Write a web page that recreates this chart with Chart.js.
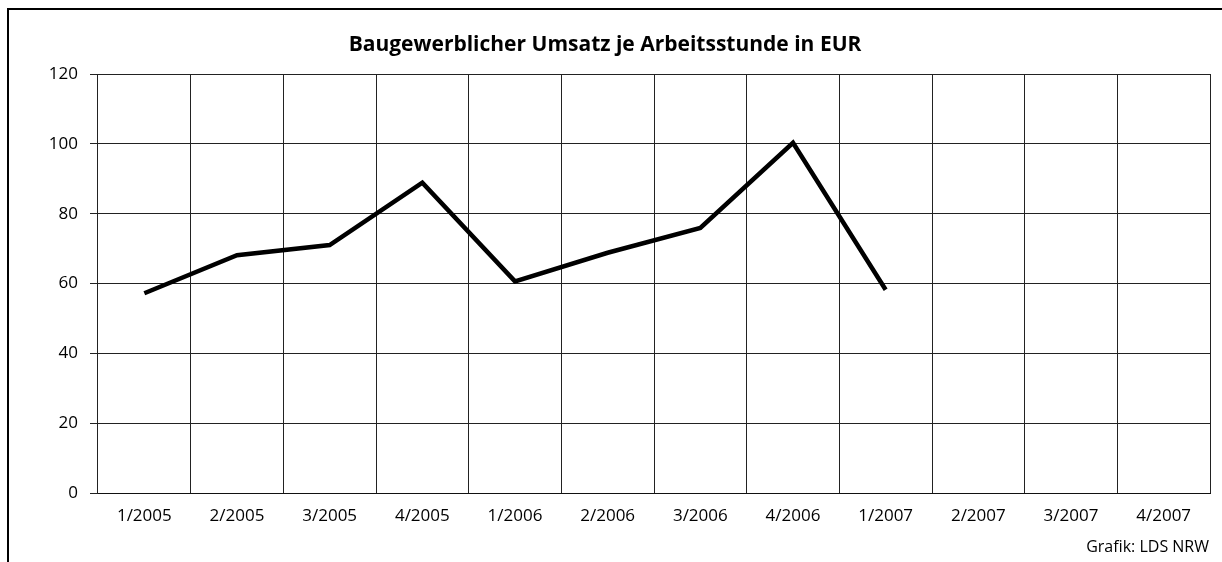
<!DOCTYPE html>
<html>
<head>
<meta charset="utf-8">
<script src="https://cdn.jsdelivr.net/npm/chart.js@4.4.1/dist/chart.umd.min.js"></script>
<style>
html,body{margin:0;padding:0;background:#fff;}
#wrap{position:relative;width:1222px;height:562px;}
</style>
</head>
<body>
<div id="wrap"><canvas id="c" width="1222" height="562"></canvas></div>
<script>
const categories = ["1/2005","2/2005","3/2005","4/2005","1/2006","2/2006","3/2006","4/2006","1/2007","2/2007","3/2007","4/2007"];
const umsatzValues = [57.2, 68.1, 71, 88.9, 60.6, 68.8, 75.9, 100.3, 58.2, null, null, null];
const yTicks = [0, 20, 40, 60, 80, 100, 120];
const titleText = "Baugewerblicher Umsatz je Arbeitsstunde in EUR";
const sourceText = "Grafik: LDS NRW";

const FONT = "'Open Sans', 'DejaVu Sans', sans-serif";

const framePlugin = {
  id: 'frame',
  afterDraw(chart) {
    const ctx = chart.ctx;
    ctx.save();
    ctx.strokeStyle = '#000';
    ctx.lineWidth = 2;
    ctx.beginPath();
    ctx.moveTo(8, 562);
    ctx.lineTo(8, 9);
    ctx.lineTo(1222, 9);
    ctx.stroke();
    ctx.fillStyle = '#000';
    ctx.font = "16px " + FONT;
    ctx.textAlign = 'right';
    ctx.textBaseline = 'middle';
    ctx.fillText(sourceText, chart.chartArea.right - 1, 547);
    ctx.restore();
  }
};

new Chart(document.getElementById('c'), {
  type: 'line',
  data: {
    labels: categories,
    datasets: [{
      data: umsatzValues,
      borderColor: '#000',
      borderWidth: 4.5,
      pointRadius: 0,
      fill: false,
      tension: 0,
      spanGaps: false,
      borderJoinStyle: 'miter'
    }]
  },
  options: {
    responsive: false,
    animation: false,
    devicePixelRatio: 1,
    layout: { padding: { left: 0, right: 12, top: 0, bottom: 0 } },
    plugins: {
      legend: { display: false },
      tooltip: { enabled: false },
      title: {
        display: true,
        text: titleText,
        color: '#000',
        font: { family: FONT, size: 21, weight: 'bold', lineHeight: 1.2 },
        padding: { top: 32.4, bottom: 16.4 }
      }
    },
    scales: {
      x: {
        offset: true,
        grid: { offset: true, color: '#222', lineWidth: 1, drawTicks: false },
        border: { color: '#111', width: 1 },
        ticks: { color: '#000', font: { family: FONT, size: 17 }, padding: 13, maxRotation: 0, autoSkip: false },
        afterFit(scale) { scale.height = 69; }
      },
      y: {
        min: 0, max: 120,
        afterBuildTicks(scale) { scale.ticks = yTicks.map(v => ({ value: v })); },
        grid: { color: '#222', lineWidth: 1, tickLength: 8 },
        border: { display: false },
        ticks: { color: '#000', font: { family: FONT, size: 17 }, padding: 12 },
        afterFit(scale) { scale.width = 98; }
      }
    }
  },
  plugins: [framePlugin]
});
</script>
</body>
</html>
